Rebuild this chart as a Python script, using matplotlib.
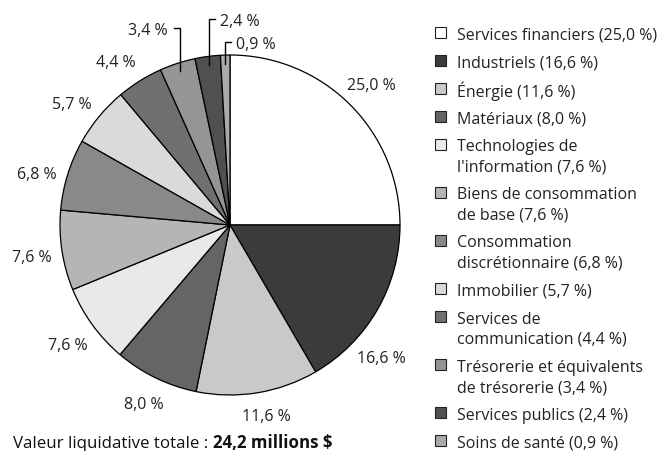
import numpy as np
import matplotlib
matplotlib.use("Agg")
import matplotlib.pyplot as plt
from matplotlib.patches import Rectangle

plt.rcParams['font.family'] = ['Open Sans', 'DejaVu Sans']

# sector weights (%), clockwise from 12 o'clock
sectors = ["Services financiers (25,0 %)", "Industriels (16,6 %)", "Énergie (11,6 %)",
           "Matériaux (8,0 %)", "Technologies de\nl'information (7,6 %)",
           "Biens de consommation\nde base (7,6 %)", "Consommation\ndiscrétionnaire (6,8 %)",
           "Immobilier (5,7 %)", "Services de\ncommunication (4,4 %)",
           "Trésorerie et équivalents\nde trésorerie (3,4 %)", "Services publics (2,4 %)",
           "Soins de santé (0,9 %)"]
weights = [25.0, 16.6, 11.6, 8.0, 7.6, 7.6, 6.8, 5.7, 4.4, 3.4, 2.4, 0.9]
pct_labels = ["25,0 %", "16,6 %", "11,6 %", "8,0 %", "7,6 %", "7,6 %", "6,8 %",
              "5,7 %", "4,4 %", "3,4 %", "2,4 %", "0,9 %"]
colors = ["#ffffff", "#3b3b3c", "#c8c9cb", "#646567", "#e9e9ea", "#b4b5b7",
          "#88898b", "#d9dadb", "#6f7072", "#949597", "#4f5052", "#a9aaac"]
total_text = "Valeur liquidative totale : "
total_value = "24,2 millions $"

W, H = 663, 452
cx, cy, R = 230, 226, 170  # pie centre / radius in pixels

fig = plt.figure(figsize=(W / 100, H / 100), dpi=100)
ax = fig.add_axes([0, 0, 1, 1])

wedges, _ = ax.pie(weights, colors=colors, startangle=90, counterclock=False,
                   radius=1.0, wedgeprops=dict(edgecolor="black", linewidth=0.9))
ax.set_xlim(-cx / R, (W - cx) / R)
ax.set_ylim(-(H - cy) / R, cy / R)
ax.axis("off")

fs = 11.5
txt_col = "#222222"
cum = np.cumsum(weights) - np.array(weights) / 2
mid = 90 - 360 * cum / sum(weights)

# nudges (degrees / radius factor) so labels sit where the original has them
ang_shift = {1: -11, 2: 1.5, 6: 2, 7: 2, 8: 2.5}
dist = {2: 1.13, 3: 1.16}

# labels outside the pie; the three smallest slices get leader lines
leader = {9: (1.159, "left"), 10: (1.212, "right"), 11: (1.076, "right")}
for i, lab in enumerate(pct_labels):
    if i in leader:
        a = np.deg2rad(mid[i])
        ty, side = leader[i]
        px, py = 0.95 * np.cos(a), 0.95 * np.sin(a)
        stub = 0.035 if side == "right" else -0.035
        ax.plot([px, px, px + stub], [py, ty, ty], color="black", lw=1.0,
                solid_joinstyle="miter")
        gap = 0.03 if side == "right" else -0.04
        ax.text(px + stub + gap, ty, lab, ha="left" if side == "right" else "right",
                va="center_baseline", fontsize=fs, color=txt_col)
    else:
        a = np.deg2rad(mid[i] + ang_shift.get(i, 0))
        d = dist.get(i, 1.18)
        ax.text(d * np.cos(a), d * np.sin(a), lab, ha="center", va="center_baseline",
                fontsize=fs, color=txt_col)

# legend drawn by hand so the boxes sit on the first line of each entry
y = 33.5
line_step = 20.3
for name, col in zip(sectors, colors):
    fy = 1 - y / H
    fig.patches.append(Rectangle((435 / W, fy - 5.5 / H), 11 / W, 11 / H,
                                 transform=fig.transFigure, facecolor=col,
                                 edgecolor="#222222", linewidth=0.8))
    lines = name.split("\n")
    for k, line in enumerate(lines):
        fig.text(457 / W, 1 - (y + k * line_step) / H, line, ha="left",
                 va="center_baseline", fontsize=fs, color=txt_col)
    y += 27.9 + line_step * (len(lines) - 1)

t1 = fig.text(13 / W, 1 - 442 / H, total_text, ha="left", va="center_baseline",
              fontsize=12.2, color="#111111")
ax.annotate(total_value, xy=(1, 0), xycoords=t1, va="bottom", ha="left",
            fontsize=12.2, fontweight="bold", color="#111111")

fig.savefig("out.png", dpi=100)
